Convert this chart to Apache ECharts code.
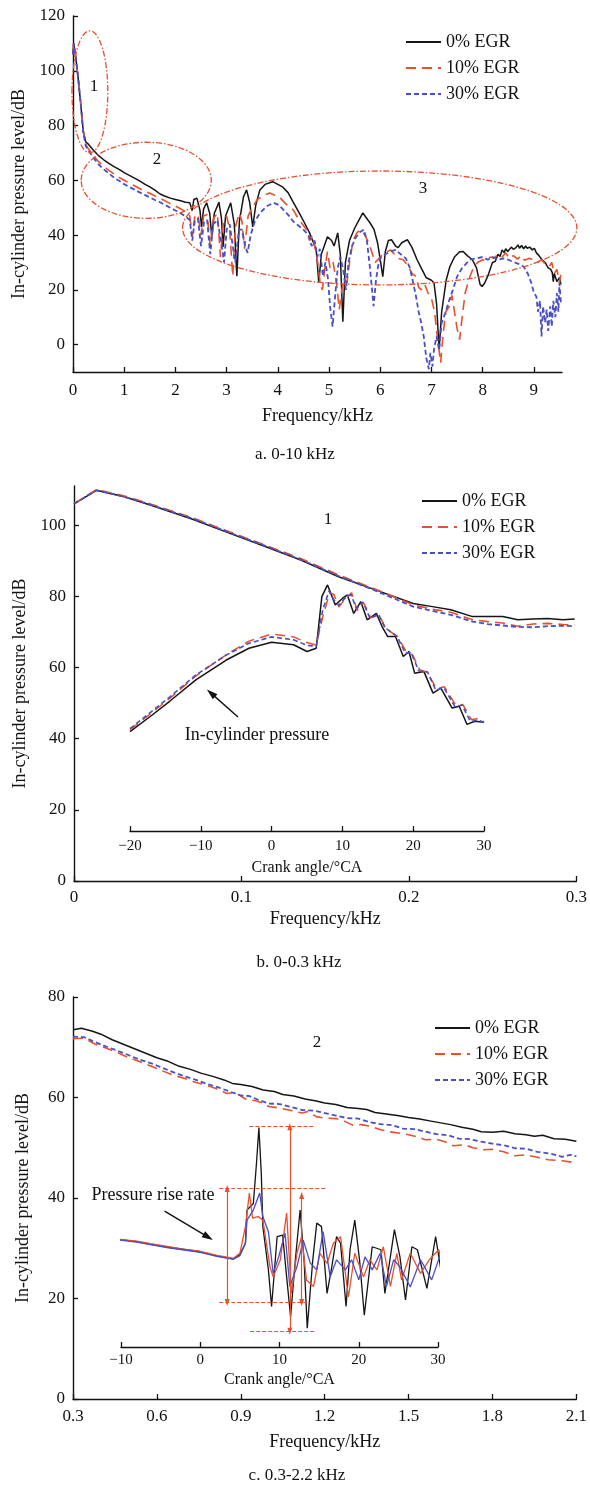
<!DOCTYPE html>
<html><head><meta charset="utf-8">
<script src="https://cdn.jsdelivr.net/npm/echarts@6/dist/echarts.min.js"></script>
<style>html,body{margin:0;padding:0;background:#fff}#c{width:590px;height:1487px}</style>
</head><body><div id="c"></div>
<script>
// ---------------- DATA ----------------
const names = ['0% EGR', '10% EGR', '30% EGR'];

// a. 0-10 kHz  [frequency kHz, dB]
const a_black = [[0,106],[0.015,110],[0.05,105.5],[0.1,97.5],[0.15,88],[0.2,78],[0.25,74],[0.3,73.2],[0.4,71],[0.5,69],[0.6,67.5],[0.7,66.2],[0.8,65],[0.9,64],[1.0,62.8],[1.1,61.8],[1.2,60.8],[1.3,59.8],[1.4,58.6],[1.5,57.6],[1.6,56.4],[1.7,55],[1.8,54.2],[1.9,53.5],[2.0,53],[2.1,52.5],[2.2,52],[2.28,51.8],[2.33,49],[2.36,53],[2.42,53.5],[2.48,49],[2.51,43],[2.55,49.5],[2.61,51.8],[2.67,48],[2.71,39.4],[2.76,48],[2.85,52],[2.9,46],[2.93,35.7],[2.98,47],[3.08,51.8],[3.15,44],[3.2,25],[3.25,45],[3.33,54],[3.39,56.5],[3.45,52],[3.51,43],[3.57,51],[3.65,56.5],[3.75,58.5],[3.9,59.5],[4.0,58.5],[4.1,57.5],[4.2,55.5],[4.3,52],[4.42,48],[4.52,44.5],[4.62,40.8],[4.7,37],[4.75,34.6],[4.8,22.6],[4.85,33],[4.97,39.4],[5.05,38],[5.1,36],[5.17,40.8],[5.22,33],[5.27,8.4],[5.32,30],[5.4,38],[5.5,42.5],[5.6,46],[5.66,48.1],[5.72,46.5],[5.8,44.5],[5.88,42],[5.95,37],[6.0,31],[6.05,24.8],[6.1,34],[6.16,38],[6.22,38.3],[6.3,36],[6.35,35.4],[6.42,37.2],[6.53,38.3],[6.62,35.5],[6.72,31],[6.8,28],[6.9,24.4],[7.0,23.5],[7.05,22.6],[7.1,15],[7.15,-1.8],[7.2,12],[7.29,23.7],[7.36,28.5],[7.45,32],[7.55,33.9],[7.62,34],[7.7,32.5],[7.8,31],[7.88,28],[7.95,22],[7.99,21.2],[8.04,22.5],[8.1,25],[8.19,29.9],[8.25,30.5],[8.3,33],[8.34,32.2],[8.38,34.6],[8.42,33.6],[8.45,35],[8.49,34],[8.52,34.2],[8.56,35.6],[8.6,34.8],[8.65,35.4],[8.69,36.4],[8.72,35.2],[8.76,36.2],[8.8,35],[8.84,36],[8.87,35.2],[8.92,35.6],[8.97,34.6],[9.01,35.2],[9.05,33.5],[9.1,32.5],[9.13,33],[9.16,31],[9.22,30],[9.25,30.6],[9.28,28],[9.33,27.5],[9.36,26.3],[9.38,23],[9.4,26],[9.45,23],[9.5,24.5],[9.53,22]];
const a_red = [[0,106],[0.015,110],[0.05,105.5],[0.1,97.8],[0.15,88.5],[0.2,78],[0.25,73],[0.3,71.5],[0.4,69],[0.5,66.8],[0.6,65],[0.7,63.6],[0.8,62.3],[0.9,61],[1.0,60],[1.1,59],[1.2,58],[1.3,57],[1.4,56],[1.5,55.3],[1.6,54.3],[1.7,53.5],[1.8,52.5],[1.9,51.5],[2.0,50.6],[2.1,49.6],[2.2,48.5],[2.28,47],[2.33,39.5],[2.38,47],[2.44,47.5],[2.5,40],[2.55,47],[2.62,47.5],[2.68,36],[2.74,46],[2.82,48],[2.88,32],[2.94,45],[3.0,47],[3.06,42],[3.12,25],[3.17,43],[3.25,48],[3.3,45],[3.35,35],[3.42,47],[3.5,50],[3.6,53],[3.72,54.5],[3.84,55.4],[3.95,54.5],[4.05,53.5],[4.15,51.5],[4.3,49.2],[4.4,46],[4.5,43.5],[4.56,42],[4.62,38],[4.68,40],[4.73,35],[4.78,30],[4.83,22],[4.87,20],[4.92,28],[4.97,34],[5.02,28],[5.08,30],[5.15,22],[5.2,12.8],[5.25,20],[5.3,24],[5.35,22.6],[5.4,30],[5.47,38],[5.55,41],[5.62,42],[5.7,40],[5.78,37],[5.85,33],[5.9,30],[6.0,32],[6.1,33.5],[6.2,34.6],[6.28,33],[6.35,31.5],[6.45,31],[6.55,28.5],[6.62,26],[6.7,24.8],[6.75,21],[6.8,20],[6.87,22],[6.93,19],[7.0,17],[7.06,12],[7.12,2],[7.18,-6.6],[7.23,4],[7.28,12],[7.35,14],[7.4,18],[7.45,12],[7.5,6],[7.55,1.8],[7.6,10],[7.66,19],[7.75,24.8],[7.82,28],[7.9,30],[8.0,31],[8.08,30.5],[8.15,32],[8.22,31.5],[8.3,33],[8.38,32],[8.45,33.5],[8.52,31.5],[8.6,32.5],[8.68,31.2],[8.75,32.5],[8.82,30.8],[8.9,31.5],[9.0,31],[9.08,30],[9.15,31],[9.22,29.5],[9.3,28.5],[9.35,30],[9.4,26],[9.45,27.5],[9.5,22.6],[9.53,26]];
const a_blue = [[0,106],[0.015,110],[0.05,105.3],[0.1,97.3],[0.15,88],[0.2,77.5],[0.25,72.5],[0.3,71],[0.4,68.2],[0.5,65.8],[0.6,64],[0.7,62.5],[0.8,61],[0.9,59.8],[1.0,58.6],[1.1,57.6],[1.2,56.6],[1.3,55.6],[1.4,54.7],[1.5,53.8],[1.6,52.8],[1.7,52],[1.8,51],[1.9,50],[2.0,49],[2.1,48],[2.2,46.8],[2.28,45.5],[2.33,38],[2.38,45.5],[2.44,46],[2.5,36],[2.56,45],[2.62,45.5],[2.68,33],[2.74,44],[2.82,45.5],[2.9,37],[2.95,30],[3.0,42],[3.06,44],[3.12,36],[3.17,30],[3.24,42],[3.3,42],[3.36,36],[3.41,33.5],[3.47,40],[3.55,45],[3.65,48],[3.78,50.5],[3.92,51.8],[4.02,51],[4.12,49],[4.22,47],[4.3,45],[4.4,43.5],[4.5,42],[4.6,40],[4.66,36],[4.72,38],[4.77,32],[4.82,35],[4.88,25],[4.93,30],[4.98,24],[5.02,14],[5.07,6.6],[5.12,18],[5.17,28],[5.22,32],[5.28,27],[5.33,20],[5.38,30],[5.45,36],[5.52,39],[5.6,41],[5.68,42],[5.74,38],[5.8,28],[5.87,14],[5.92,24],[5.97,30],[6.02,32],[6.1,33],[6.2,34],[6.3,34.6],[6.4,33],[6.5,31.5],[6.58,28],[6.65,22],[6.7,17.5],[6.75,12],[6.8,8],[6.85,3],[6.9,-5],[6.95,-9],[6.98,-3],[7.02,-8],[7.05,-1.8],[7.1,3],[7.15,-2],[7.2,8],[7.28,12],[7.35,16.4],[7.42,20],[7.5,24.8],[7.6,28],[7.75,31],[7.88,31.5],[8.0,32],[8.1,31],[8.2,32],[8.3,31],[8.4,31.5],[8.5,31],[8.6,30.2],[8.7,29.5],[8.8,28.5],[8.88,26],[8.95,22.6],[9.0,19],[9.05,17.5],[9.08,12],[9.12,16],[9.15,3],[9.18,14],[9.22,8],[9.25,12.8],[9.28,5],[9.32,14],[9.35,6.6],[9.38,16],[9.42,10],[9.45,18.8],[9.48,12],[9.5,22.6],[9.53,15]];

// b. 0-0.3 kHz
const b_black = [[0,106],[0.0134,109.8],[0.03,108],[0.046,105.6],[0.07,101.8],[0.0907,98.1],[0.113,94.2],[0.1354,90.2],[0.158,85.5],[0.18,81.8],[0.2026,78],[0.214,77.1],[0.225,76.2],[0.238,74.3],[0.247,74.3],[0.256,74.3],[0.265,73.4],[0.274,73.6],[0.283,73.8],[0.292,73.4],[0.299,73.6]];
const b_red = [[0,106],[0.0134,110],[0.03,108.2],[0.046,105.9],[0.07,102.2],[0.0907,98.5],[0.113,94.6],[0.1354,90.6],[0.158,86],[0.18,82],[0.2026,77.6],[0.214,76.4],[0.225,75.5],[0.238,73.4],[0.247,72.9],[0.256,72.5],[0.265,71.6],[0.274,72.2],[0.283,72.4],[0.292,72.1],[0.299,71.9]];
const b_blue = [[0,106],[0.0134,109.8],[0.03,108],[0.046,105.7],[0.07,102],[0.0907,98.3],[0.113,94.4],[0.1354,90.3],[0.158,85.7],[0.18,81.6],[0.2026,77.1],[0.214,75.9],[0.225,74.8],[0.238,72.9],[0.247,72.2],[0.256,71.8],[0.265,71.4],[0.274,71.3],[0.283,71.6],[0.292,71.7],[0.299,71.6]];
// inset b: in-cylinder pressure vs crank angle (°CA, drawn on the dB scale)
const bi_black = [[-20,42],[-17.1,46.3],[-14.4,50.5],[-10.7,56.5],[-6.4,62.1],[-3.2,65.4],[0,67.1],[3.1,66.4],[5,64.5],[6.3,65.4],[7.1,79.9],[7.9,83.2],[9,77.6],[10,79.4],[10.7,80.4],[11.6,75.2],[12.6,78.5],[13.5,73.4],[14.8,75.2],[15.6,71.5],[16.4,68.7],[17.5,68.7],[18.6,63.1],[19.4,64.5],[20.2,58.4],[21.5,58.9],[22.8,52.8],[23.9,54.2],[25.5,48.6],[26.5,49.1],[27.6,44],[28.7,44.9],[30,44.6]];
const bi_red = [[-20,42.5],[-17.1,47],[-14.4,51.3],[-10.7,57.6],[-6.4,63.6],[-3.2,67.4],[0,69.4],[3.1,68.6],[5,67],[6.3,66.3],[7.2,74],[8.2,81],[8.8,80.5],[9.5,77],[10.5,79.6],[11.3,81],[12.1,76],[13,78.2],[14,74],[15.2,74.8],[16.1,71],[17.8,68.6],[19,64.5],[19.9,63.6],[20.9,59.4],[22,58.6],[23.3,54],[24.4,54.6],[26,49.4],[27,49.6],[28.2,45.4],[29.2,45.6],[30,44.8]];
const bi_blue = [[-20,42.8],[-17.1,47.4],[-14.4,51.7],[-10.7,57.9],[-6.4,63.5],[-3.2,66.8],[0,68.6],[3.1,67.8],[5,66.2],[6.3,66],[7.2,76],[8.1,81.5],[8.8,79],[9.5,77.5],[10.5,79.8],[11.2,80.5],[12,76.5],[12.9,78.4],[13.9,73.8],[15.1,75],[16,71.2],[17.7,68.8],[18.9,64],[19.7,64.2],[20.8,59],[22,58.8],[23.2,53.6],[24.3,54.4],[25.9,49],[26.9,49.4],[28.1,44.8],[29.1,45.2],[30,44.6]];

// c. 0.3-2.2 kHz
const c_black = [[0.3,73.5],[0.33,73.8],[0.37,73.2],[0.4,72.6],[0.44,71.5],[0.48,70.6],[0.52,69.7],[0.56,68.8],[0.6,67.9],[0.64,67.2],[0.68,66.2],[0.72,65.6],[0.76,64.8],[0.8,64.2],[0.84,63.5],[0.87,62.8],[0.9,62.6],[0.94,62.2],[0.98,61.5],[1.02,61.2],[1.05,60.6],[1.09,60.3],[1.13,59.7],[1.17,59.3],[1.2,58.9],[1.24,58.6],[1.28,58],[1.32,57.8],[1.35,57.6],[1.38,57],[1.42,56.7],[1.46,56.4],[1.5,56],[1.54,55.7],[1.58,55.3],[1.62,54.9],[1.65,54.6],[1.69,54.1],[1.73,53.7],[1.76,53.2],[1.8,53.1],[1.84,53.3],[1.88,52.8],[1.92,52.6],[1.95,52.3],[1.98,52.5],[2.02,51.8],[2.06,51.7],[2.1,51.3]];
const c_red = [[0.3,71.7],[0.34,71.8],[0.38,70.6],[0.42,69.8],[0.46,68.9],[0.5,67.9],[0.54,67.1],[0.58,66.2],[0.62,65.3],[0.66,64.4],[0.7,63.8],[0.74,63],[0.78,62.4],[0.82,61.6],[0.85,60.8],[0.88,61],[0.92,59.6],[0.95,59.4],[0.98,58.9],[1.0,58.2],[1.04,57.9],[1.08,57.4],[1.12,56.9],[1.14,57.2],[1.17,56.2],[1.2,55.9],[1.24,55.8],[1.27,55.3],[1.3,54.5],[1.33,54.6],[1.36,54.3],[1.4,53.6],[1.43,53.2],[1.47,52.9],[1.5,52.6],[1.53,52.2],[1.56,51.6],[1.6,51.7],[1.63,51.2],[1.66,50.4],[1.7,50.6],[1.73,50],[1.77,49.6],[1.8,49.7],[1.84,49.2],[1.88,48.4],[1.92,48.6],[1.96,48.1],[2.0,47.6],[2.05,47.4],[2.1,47]];
const c_blue = [[0.3,72.1],[0.34,72],[0.38,71],[0.42,70.1],[0.46,69.3],[0.5,68.4],[0.54,67.5],[0.58,66.8],[0.62,65.9],[0.66,65],[0.7,64.2],[0.74,63.5],[0.78,62.7],[0.82,62],[0.86,61.2],[0.9,60.4],[0.93,60.3],[0.96,59.6],[1.0,58.8],[1.04,58.7],[1.08,58.1],[1.12,57.5],[1.16,57.4],[1.2,56.9],[1.24,56.4],[1.28,55.9],[1.32,55.8],[1.36,55.1],[1.4,54.7],[1.44,54.5],[1.48,53.8],[1.52,53.7],[1.56,53.2],[1.6,52.7],[1.64,52.5],[1.68,51.8],[1.72,51.7],[1.76,51.2],[1.8,50.8],[1.84,50.5],[1.88,49.9],[1.92,49.8],[1.96,49.2],[2.0,48.9],[2.05,48.2],[2.08,48.6],[2.1,48.3]];
// inset c: pressure rise rate vs crank angle
const ci_black = [[-10.5,31.8],[-8,31.3],[-6.3,30.8],[-4,30.2],[-2.2,29.8],[0,29.3],[2.1,28.5],[4.2,27.9],[5,28.7],[5.7,31],[5.9,37.6],[6.7,38.9],[7.1,47],[7.4,54],[7.7,45],[7.9,34.3],[8.6,25.7],[9.0,18.4],[9.7,32.3],[10.4,32.6],[10.9,24.3],[11.4,16.4],[12.0,27.7],[12.6,37.6],[13.1,27.7],[13.5,14.1],[14.2,27.7],[14.7,35],[15.3,34.3],[16.0,21],[16.6,26.3],[17.2,32.3],[17.7,31],[18.4,18.4],[18.9,29.7],[19.5,35.6],[20.1,27.7],[20.7,16.7],[21.7,30.3],[22.8,29.7],[23.3,21],[24.5,33.7],[25.2,28.3],[25.9,19.7],[26.7,30.3],[27.4,29.7],[28.6,22],[29.7,32.3],[30.5,24.3]];
const ci_red = [[-10.5,31.8],[-8,31.4],[-6.3,30.9],[-4,30.3],[-2.2,29.8],[0,29.4],[2.1,28.6],[4.2,28],[5,29],[5.7,34.3],[6.2,41],[6.6,36],[7.3,36.3],[7.9,35.6],[8.8,26.3],[9.2,24.3],[10.1,27.7],[10.9,37],[11.5,21],[12.2,29],[12.8,32.3],[13.4,23.7],[14.3,22.4],[15.1,29],[16.0,27],[16.8,31],[17.7,32.3],[18.7,20.3],[19.5,29],[20.6,24.3],[21.4,27.7],[22.3,25.7],[23.1,30.3],[24,22.4],[24.8,29],[25.4,23.7],[26.5,29],[27.8,25],[28.9,27.7],[30.1,29.7],[30.5,27]];
const ci_blue = [[-10.5,31.7],[-8,31.2],[-6.3,30.7],[-4,30.1],[-2.2,29.7],[0,29.2],[2.1,28.4],[4.2,27.8],[5,28.5],[5.7,31],[5.9,35.6],[6.7,37.6],[7.5,41],[7.9,36.3],[8.6,33.3],[9.2,25],[9.9,28.3],[10.7,33],[11.3,22.4],[12.2,26.3],[13.0,31.6],[13.9,27],[14.7,25.7],[15.5,33.3],[16.4,24.3],[17.2,27.7],[18.3,25.7],[19.1,27.7],[20.0,23.7],[20.8,28.3],[21.7,25.7],[22.7,29],[23.5,22.4],[24.4,27.7],[25.2,26.3],[26.5,22.3],[27.8,27.7],[29.2,23.7],[30.5,29.7]];

// tick labels
const a_xTicks = [0,1,2,3,4,5,6,7,8,9];
const a_yTicks = [0,20,40,60,80,100,120];
const b_xTicks = [0,0.1,0.2,0.3];
const b_yTicks = [0,20,40,60,80,100];
const bi_xTicks = [-20,-10,0,10,20,30];
const c_xTicks = [0.3,0.6,0.9,1.2,1.5,1.8,2.1];
const c_yTicks = [0,20,40,60,80];
const ci_xTicks = [-10,0,10,20,30];

// annotations (data coordinates)
const ellipses = [ // [centerF, centerDB, halfWidthKHz, halfHeightDB]
  [0.33, 92.3, 0.35, 22.3],
  [1.43, 60, 1.27, 13.9],
  [5.99, 42.6, 3.85, 20.8]
];
const c_hLines = [[6.2,14.5,54.2],[2.4,16,41.9],[2.4,13.8,19.2],[6.3,14.5,13.5]];
const c_vArrows = [[3.4,41.9,19.2],[11.3,54.2,13.5],[12.8,40.5,19.2]];
const b_arrow = [[-4.75,46.1],[-8.56,52.8]];
const c_arrow = [[-4.5,37.4],[1.0,32.2]];

// ---------------- CHART ----------------
const FONT = '"Liberation Serif", "Times New Roman", serif';
const BLACK = '#151515', RED = '#e5502f', BLUE = '#4a4fc4';
const chart = echarts.init(document.getElementById('c'), null, {renderer: 'canvas'});

const grids = [
  {left: 73, top: 16, width: 489, height: 356},
  {left: 74, top: 486, width: 505, height: 395},
  {left: 130, top: 486, width: 354, height: 345},
  {left: 73, top: 997, width: 504, height: 402},
  {left: 121, top: 997, width: 317, height: 350}
];
const minusFmt = v => String(v).replace('-', '\u2212');

function xAx(grid, min, max, ticks, name, gap, fs, nfs, margin) {
  return {
    type: 'value', gridIndex: grid, min: min, max: max,
    name: name, nameLocation: 'middle', nameGap: gap,
    nameTextStyle: {fontFamily: FONT, fontSize: nfs, color: '#111'},
    axisLine: {onZero: false, lineStyle: {color: '#111', width: 1.4}},
    axisTick: {inside: true, length: 5, customValues: ticks, lineStyle: {color: '#111', width: 1.3}},
    axisLabel: {customValues: ticks, fontFamily: FONT, fontSize: fs, color: '#111', margin: margin, formatter: minusFmt},
    splitLine: {show: false}
  };
}
function yAx(grid, min, max, ticks, show) {
  return {
    type: 'value', gridIndex: grid, min: min, max: max, show: show,
    name: 'In-cylinder pressure level/dB', nameLocation: 'middle', nameGap: 41,
    nameTextStyle: {fontFamily: FONT, fontSize: 18, color: '#111'},
    axisLine: {onZero: false, lineStyle: {color: '#111', width: 1.4}},
    axisTick: {inside: true, length: 5, customValues: ticks, lineStyle: {color: '#111', width: 1.3}},
    axisLabel: {customValues: ticks, fontFamily: FONT, fontSize: 17, color: '#111', margin: 8},
    splitLine: {show: false}
  };
}
// inset y-ranges aligned with main y-scales
const biMin = 111 - 111 * grids[2].height / grids[1].height;
const ciMin = 80 - 80 * grids[4].height / grids[3].height;

function ln(name, data, xi, color, type, width, clip) {
  return {
    type: 'line', name: name, data: data, xAxisIndex: xi, yAxisIndex: xi,
    symbol: 'none', showSymbol: false, silent: true, animation: false, clip: clip !== false,
    lineStyle: {color: color, type: type, width: width}, itemStyle: {color: color}
  };
}
const RD = [10, 6], BD = [5, 3];
const series = [
  ln(names[0], a_black, 0, BLACK, 'solid', 1.5),
  ln(names[1], a_red, 0, RED, RD, 1.6),
  ln(names[2], a_blue, 0, BLUE, BD, 1.8),
  ln(names[0], b_black, 1, BLACK, 'solid', 1.5),
  ln(names[1], b_red, 1, RED, RD, 1.6),
  ln(names[2], b_blue, 1, BLUE, BD, 1.8),
  ln('p0', bi_black, 2, BLACK, 'solid', 1.5),
  ln('p10', bi_red, 2, RED, RD, 1.5),
  ln('p30', bi_blue, 2, BLUE, BD, 1.6),
  ln(names[0], c_black, 3, BLACK, 'solid', 1.5),
  ln(names[1], c_red, 3, RED, RD, 1.6),
  ln(names[2], c_blue, 3, BLUE, BD, 1.8),
  ln('r0', ci_black, 4, BLACK, 'solid', 1.3, false),
  ln('r10', ci_red, 4, RED, 'solid', 1.3, false),
  ln('r30', ci_blue, 4, BLUE, 'solid', 1.3, false)
];
// arrows & red measurement lines via markLine in data coordinates
series.push({
  type: 'line', name: 'annB', data: [], xAxisIndex: 2, yAxisIndex: 2, silent: true, animation: false,
  markLine: {silent: true, animation: false, symbol: ['none', 'triangle'], symbolSize: [7, 11], label: {show: false},
    lineStyle: {color: '#111', width: 1.4, type: 'solid'},
    data: [[{coord: b_arrow[0]}, {coord: b_arrow[1]}]]}
});
series.push({
  type: 'line', name: 'annC', data: [], xAxisIndex: 4, yAxisIndex: 4, silent: true, animation: false,
  markLine: {silent: true, animation: false, symbol: ['none', 'triangle'], symbolSize: [7, 11], label: {show: false},
    lineStyle: {color: '#111', width: 1.4, type: 'solid'},
    data: [[{coord: c_arrow[0]}, {coord: c_arrow[1]}]]}
});
series.push({
  type: 'line', name: 'annC2', data: [], xAxisIndex: 4, yAxisIndex: 4, silent: true, animation: false,
  markLine: {silent: true, animation: false, symbol: ['none', 'none'], label: {show: false},
    lineStyle: {color: RED, width: 1.1, type: [4, 2]},
    data: c_hLines.map(h => [{coord: [h[0], h[2]]}, {coord: [h[1], h[2]]}])}
});
series.push({
  type: 'line', name: 'annC3', data: [], xAxisIndex: 4, yAxisIndex: 4, silent: true, animation: false,
  markLine: {silent: true, animation: false, symbol: ['triangle', 'triangle'], symbolSize: [5, 7], label: {show: false},
    lineStyle: {color: RED, width: 1.2, type: 'solid'},
    data: c_vArrows.map(v => [{coord: [v[0], v[1]]}, {coord: [v[0], v[2]]}])}
});

function legend(left, top) {
  return {left: left, top: top, padding: 0, orient: 'vertical', itemWidth: 35, itemHeight: 18, itemGap: 8,
    data: names, selectedMode: false,
    itemStyle: {opacity: 0, borderWidth: 0},
    textStyle: {fontFamily: FONT, fontSize: 18, color: '#111'}};
}

const option = {
  backgroundColor: '#fff',
  animation: false,
  grid: grids,
  xAxis: [
    xAx(0, 0, 9.55, a_xTicks, 'Frequency/kHz', 35, 17, 18, 10),
    xAx(1, 0, 0.3, b_xTicks, 'Frequency/kHz', 29, 17, 18, 8),
    xAx(2, -20, 30, bi_xTicks, 'Crank angle/°CA', 29, 15, 16, 8),
    xAx(3, 0.3, 2.1, c_xTicks, 'Frequency/kHz', 34, 17, 18, 9),
    xAx(4, -10, 30, ci_xTicks, 'Crank angle/°CA', 25, 15, 16, 6)
  ],
  yAxis: [
    yAx(0, -10, 120, a_yTicks, true),
    yAx(1, 0, 111, b_yTicks, true),
    yAx(2, biMin, 111, [], false),
    yAx(3, 0, 80, c_yTicks, true),
    yAx(4, ciMin, 80, [], false)
  ],
  legend: [legend(405, 33), legend(421, 492), legend(434, 1019)],
  series: series
};
chart.setOption(option);

// annotations: ellipses and texts
function txt(t, x, y, size) {
  return {type: 'text', x: x, y: y, silent: true,
    style: {text: t, fill: '#111', font: (size || 17) + 'px ' + FONT, textAlign: 'center', textVerticalAlign: 'middle'}};
}
const g = [];
ellipses.forEach(e => {
  const c = chart.convertToPixel({gridIndex: 0}, [e[0], e[1]]);
  const p = chart.convertToPixel({gridIndex: 0}, [e[0] + e[2], e[1] + e[3]]);
  g.push({type: 'ellipse', silent: true, z: 5,
    shape: {cx: c[0], cy: c[1], rx: Math.abs(p[0] - c[0]), ry: Math.abs(p[1] - c[1])},
    style: {fill: 'none', stroke: RED, lineWidth: 1.3, lineDash: [6, 2, 1.5, 2]}});
});
g.push(txt('1', 94, 87, 17), txt('2', 157, 160, 17), txt('3', 423, 189, 17));
g.push(txt('1', 328, 520, 17), txt('2', 317, 1043, 17));
g.push(txt('In-cylinder pressure', 257, 735, 18));
g.push(txt('Pressure rise rate', 153, 1195, 18));
g.push(txt('a. 0-10 kHz', 295, 455, 17), txt('b. 0-0.3 kHz', 299, 963, 17), txt('c. 0.3-2.2 kHz', 297, 1476, 17));
chart.setOption({graphic: {elements: g}});
</script>
</body></html>
